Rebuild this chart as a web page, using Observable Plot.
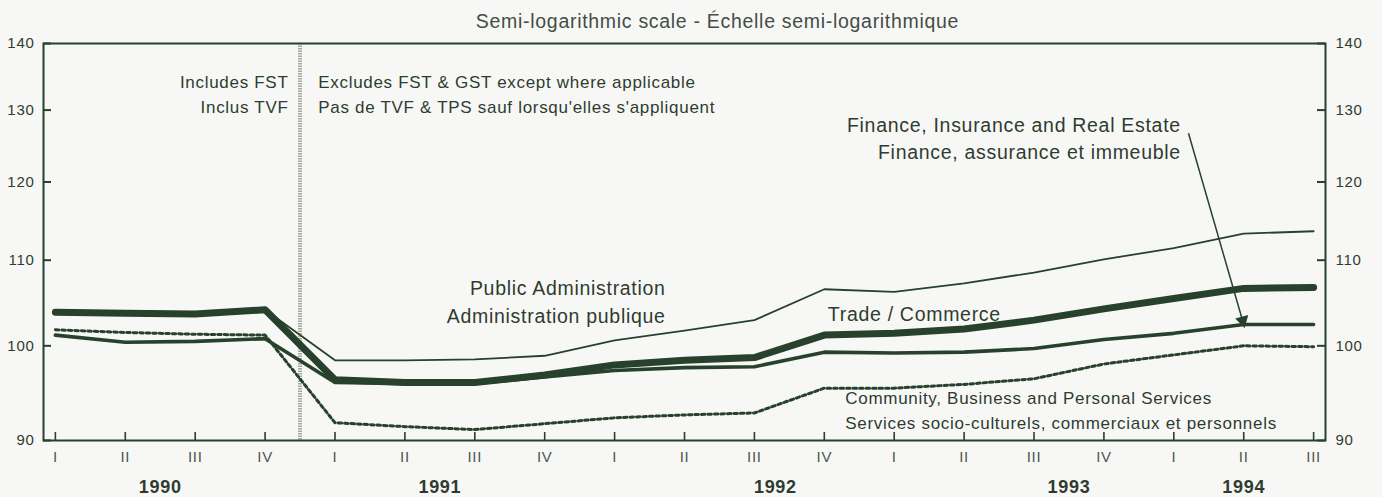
<!DOCTYPE html>
<html><head><meta charset="utf-8">
<script src="https://cdn.jsdelivr.net/npm/d3@7"></script>
<script src="https://cdn.jsdelivr.net/npm/@observablehq/plot@0.6"></script>
<style>
html,body{margin:0;padding:0;background:#f7f8f5;}
#chart svg{display:block;}
#chart svg text{letter-spacing:0.7px;}
</style></head><body><div id="chart"></div>
<script>
// ---- data (index values, semi-log scale) ----
const quarters = ["I","II","III","IV","I","II","III","IV","I","II","III","IV","I","II","III","IV","I","II","III"];
const publicAdministration = [103.8,103.7,103.6,104.1,98.4,98.4,98.5,98.9,100.6,101.7,102.9,106.5,106.2,107.2,108.5,110.1,111.5,113.3,113.6];
const trade = [103.8,103.7,103.6,104.1,96.3,96.0,96.0,96.8,97.9,98.4,98.7,101.2,101.4,101.9,102.9,104.2,105.4,106.6,106.7];
const finance = [101.2,100.4,100.5,100.8,96.0,95.9,95.9,96.6,97.3,97.6,97.7,99.3,99.2,99.3,99.7,100.7,101.4,102.4,102.4];
const community = [101.8,101.5,101.3,101.2,91.8,91.4,91.1,91.7,92.3,92.6,92.8,95.4,95.4,95.8,96.4,98.0,99.0,100.0,99.9];
const years = ["1990","1991","1992","1993","1994"];
const yearCenters = [1.5,5.5,10.3,14.5,17.0];
const yTicks = [90,100,110,120,130,140];
const taxBreak = [3.5];
const title = "Semi-logarithmic scale - Échelle semi-logarithmique";

const notesLeft = [
  {text:"Includes FST", x:3.335, y:134.1},
  {text:"Inclus TVF", x:3.335, y:130.4}
];
const notesRight = [
  {text:"Excludes FST & GST except where applicable", x:3.76, y:134.1},
  {text:"Pas de TVF & TPS sauf lorsqu'elles s'appliquent", x:3.76, y:130.4}
];
const labelsRightAligned = [
  {text:"Public Administration", x:8.73, y:106.6},
  {text:"Administration publique", x:8.73, y:103.3},
  {text:"Finance, Insurance and Real Estate", x:16.1, y:127.8},
  {text:"Finance, assurance et immeuble", x:16.1, y:124.0}
];
const labelsLeftAligned = [
  {text:"Trade / Commerce", x:11.05, y:103.5}
];
const communityLabels = [
  {text:"Community, Business and Personal Services", x:11.3, y:94.3},
  {text:"Services socio-culturels, commerciaux et personnels", x:11.3, y:91.7}
];
const financeArrow = [{x1:16.21, y1:126.7, x2:17, y2:finance[17]}];

// ---- build tables ----
const rows = v => v.map((d, i) => ({i, v: d}));
const ink = "#27412c";
const textInk = "#2f3b31";
const font = "'Liberation Sans', Arial, Helvetica, sans-serif";
const W = 1382, H = 497, mT = 43, mB = 57, mL = 43, mR = 57;
const frameW = W - mL - mR, frameH = H - mT - mB, tick = 8;

const chart = Plot.plot({
  width: W, height: H,
  marginTop: mT, marginBottom: mB, marginLeft: mL, marginRight: mR,
  style: {background: "#f7f8f5", fontFamily: font, color: textInk, overflow: "visible"},
  x: {type: "linear", domain: [-0.17, 18.17]},
  y: {type: "log", domain: [90, 140]},
  marks: [
    Plot.ruleX(taxBreak, {x: d => d, stroke: "#a3aba3", strokeWidth: 4, strokeDasharray: "1.5,1"}),
    Plot.frame({stroke: ink, strokeWidth: 2}),
    // inward ticks
    Plot.ruleY(yTicks, {y: d => d, insetRight: frameW - tick, stroke: ink, strokeWidth: 2}),
    Plot.ruleY(yTicks, {y: d => d, insetLeft: frameW - tick, stroke: ink, strokeWidth: 2}),
    Plot.ruleX(d3.range(quarters.length), {x: d => d, insetTop: frameH - tick, stroke: ink, strokeWidth: 1.6}),
    // tick labels
    Plot.axisY({anchor: "left", ticks: yTicks, tickSize: 0, tickPadding: 9, label: null, fontSize: 15, color: textInk, tickFormat: d => String(d)}),
    Plot.axisY({anchor: "right", ticks: yTicks, tickSize: 0, tickPadding: 10, label: null, fontSize: 15, color: textInk, tickFormat: d => String(d)}),
    Plot.axisX({ticks: d3.range(quarters.length), tickSize: 0, tickPadding: 11, label: null, fontSize: 15, color: "#4c564e", tickFormat: i => quarters[i]}),
    Plot.text(years, {x: (d, i) => yearCenters[i], text: d => d, frameAnchor: "bottom", lineAnchor: "middle", dy: 47, fontSize: 18, fontWeight: "bold", fill: textInk}),
    Plot.text([title], {frameAnchor: "top", lineAnchor: "middle", dx: 33, dy: -22, fontSize: 19.5, fill: "#434d45"}),
    // series
    Plot.line(rows(community), {x: "i", y: "v", stroke: ink, strokeWidth: 3, strokeDasharray: "3.5,3"}),
    Plot.line(rows(publicAdministration), {x: "i", y: "v", stroke: ink, strokeWidth: 1.8, strokeLinejoin: "round"}),
    Plot.line(rows(finance), {x: "i", y: "v", stroke: ink, strokeWidth: 3.6, strokeLinejoin: "round", strokeLinecap: "round"}),
    Plot.line(rows(trade), {x: "i", y: "v", stroke: ink, strokeWidth: 7, strokeLinejoin: "round", strokeLinecap: "round"}),
    // annotations
    Plot.text(notesLeft, {x: "x", y: "y", text: "text", textAnchor: "end", fontSize: 17, fill: textInk}),
    Plot.text(notesRight, {x: "x", y: "y", text: "text", textAnchor: "start", fontSize: 17, fill: textInk}),
    Plot.text(labelsRightAligned, {x: "x", y: "y", text: "text", textAnchor: "end", fontSize: 19.5, fill: textInk}),
    Plot.text(labelsLeftAligned, {x: "x", y: "y", text: "text", textAnchor: "start", fontSize: 19.5, fill: textInk}),
    Plot.text(communityLabels, {x: "x", y: "y", text: "text", textAnchor: "start", fontSize: 17, fill: textInk}),
    Plot.link(financeArrow, {x1: "x1", y1: "y1", x2: "x2", y2: "y2", stroke: ink, strokeWidth: 1.5}),
    Plot.dot(financeArrow, {x: "x2", y: "y2", symbol: "triangle", r: 5, fill: ink, stroke: "none", rotate: 165, dx: -1, dy: -4})
  ]
});
document.getElementById("chart").appendChild(chart);
</script>
</body></html>
